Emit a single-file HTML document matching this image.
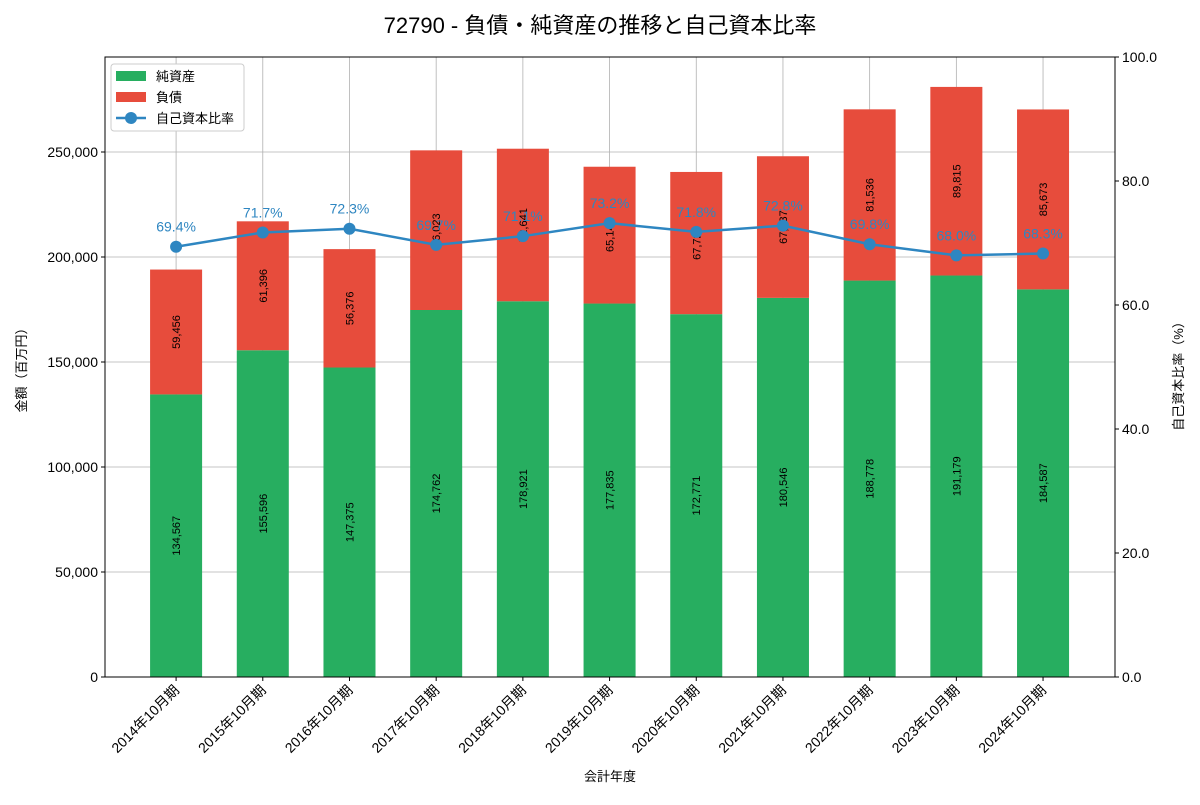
<!DOCTYPE html>
<html><head><meta charset="utf-8"><style>
body{margin:0;background:#fff}
svg text{font-family:"Liberation Sans","Noto Sans CJK JP",sans-serif}
</style></head><body>
<svg id="c" width="1200" height="800"></svg>
<script>
const categories=["2014年10月期","2015年10月期","2016年10月期","2017年10月期","2018年10月期","2019年10月期","2020年10月期","2021年10月期","2022年10月期","2023年10月期","2024年10月期"];
const equity=[134567,155596,147375,174762,178921,177835,172771,180546,188778,191179,184587];
const debt=[59456,61396,56376,76023,72641,65148,67729,67437,81536,89815,85673];
const ratio=[69.4,71.7,72.3,69.7,71.1,73.2,71.8,72.8,69.8,68.0,68.3];
const leftTicks=[0,50000,100000,150000,200000,250000];
const rightTicks=[0,20,40,60,80,100];
const L=105,R=1115,T=57,B=677,YMAX=295238;
const xs=i=>L+(i+0.82)/11.65*(R-L);
const yl=v=>B-v/YMAX*(B-T);
const yr=v=>B-v/100*(B-T);
const ns="http://www.w3.org/2000/svg",svg=document.getElementById('c');
function el(t,a,txt,p){const e=document.createElementNS(ns,t);for(const k in a)e.setAttribute(k,a[k]);if(txt!=null)e.textContent=txt;(p||svg).appendChild(e);return e;}
const fmt=v=>v.toLocaleString('en-US');
let e=el('text',{x:600,y:33,'text-anchor':'middle','font-size':22},"72790 - 負債・純資産の推移と自己資本比率");

// grid
categories.forEach((c,i)=>{e=el('line',{x1:xs(i),x2:xs(i),y1:T,y2:B,stroke:'#b0b0b0','stroke-width':0.8});
});
leftTicks.forEach(v=>{e=el('line',{x1:L,x2:R,y1:yl(v),y2:yl(v),stroke:'#b0b0b0','stroke-width':0.8});
});
// bars
const w=0.6/11.65*(R-L);
categories.forEach((c,i)=>{
 const x=xs(i);
 e=el('rect',{x:x-w/2,y:yl(equity[i]),width:w,height:B-yl(equity[i]),fill:'#27ae60'});
 
 e=el('rect',{x:x-w/2,y:yl(equity[i]+debt[i]),width:w,height:yl(equity[i])-yl(equity[i]+debt[i]),fill:'#e74c3c'});
 
 let ym=yl(equity[i]/2);
 e=el('text',{x:x+4,y:ym,'font-size':11,'text-anchor':'middle',transform:`rotate(-90 ${x+4} ${ym})`},fmt(equity[i]));
 
 ym=yl(equity[i]+debt[i]/2);
 e=el('text',{x:x+4,y:ym,'font-size':11,'text-anchor':'middle',transform:`rotate(-90 ${x+4} ${ym})`},fmt(debt[i]));
 
});
// line
e=el('polyline',{points:ratio.map((r,i)=>xs(i)+','+yr(r)).join(' '),fill:'none',stroke:'#2e86c1','stroke-width':2.5});

ratio.forEach((r,i)=>{
 e=el('circle',{cx:xs(i),cy:yr(r),r:6,fill:'#2e86c1'});
 
 e=el('text',{x:xs(i),y:yr(r)-15,'font-size':14,'text-anchor':'middle',fill:'#2e86c1'},r.toFixed(1)+'%');
 
});
// axes frame
e=el('rect',{x:L,y:T,width:R-L,height:B-T,fill:'none',stroke:'#000','stroke-width':1});

leftTicks.forEach(v=>{el('line',{x1:L-4,x2:L,y1:yl(v),y2:yl(v),stroke:'#000'});
 e=el('text',{x:L-7,y:yl(v)+5,'font-size':14,'text-anchor':'end'},fmt(v));
 });
rightTicks.forEach(v=>{el('line',{x1:R,x2:R+4,y1:yr(v),y2:yr(v),stroke:'#000'});
 e=el('text',{x:R+7,y:yr(v)+5,'font-size':14},v.toFixed(1));
 });
categories.forEach((c,i)=>{const x=xs(i);el('line',{x1:x,x2:x,y1:B,y2:B+4,stroke:'#000'});
 e=el('text',{x:x+4,y:B+14,'font-size':14,'text-anchor':'end',transform:`rotate(-45 ${x+4} ${B+14})`},c);
 });
e=el('text',{x:610,y:781,'font-size':13,'text-anchor':'middle'},"会計年度");

e=el('text',{x:26,y:367,'font-size':13,'text-anchor':'middle',transform:'rotate(-90 26 367)'},"金額（百万円）");

e=el('text',{x:1183,y:373,'font-size':13,'text-anchor':'middle',transform:'rotate(-90 1183 373)'},"自己資本比率（%）");

// legend
const g=el('g',{});
el('rect',{x:111,y:64,width:133,height:67,fill:'#fff',stroke:'#ccc',rx:3},null,g);
[["純資産",'#27ae60',76],["負債",'#e74c3c',97]].forEach(([t,c,y])=>{
 el('rect',{x:116,y:y-5,width:30,height:10,fill:c},null,g);
 e=el('text',{x:156,y:y+5,'font-size':13},t,g);
 });
el('line',{x1:116,x2:146,y1:118,y2:118,stroke:'#2e86c1','stroke-width':2.5},null,g);
el('circle',{cx:131,cy:118,r:6,fill:'#2e86c1'},null,g);
e=el('text',{x:156,y:123,'font-size':13},"自己資本比率",g);

</script>
</body></html>
